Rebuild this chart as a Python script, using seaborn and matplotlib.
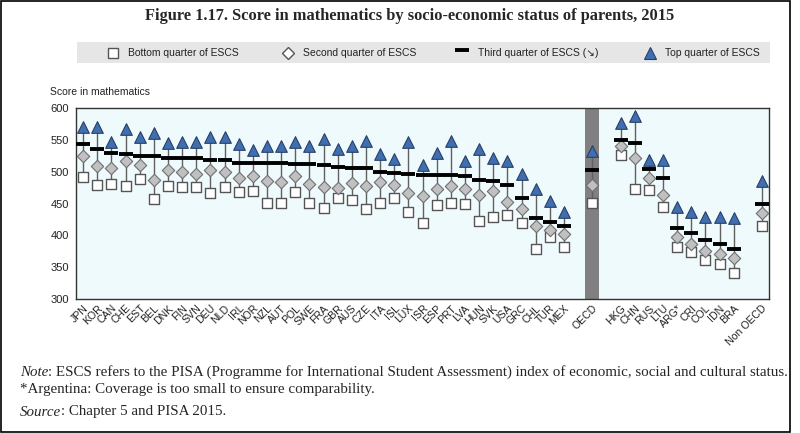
import numpy as np
import pandas as pd
import matplotlib
matplotlib.use("Agg")
import matplotlib.pyplot as plt
import seaborn as sns
from matplotlib.lines import Line2D
from matplotlib.patches import Rectangle

# ---------------- data ----------------
oecd_countries = ["JPN", "KOR", "CAN", "CHE", "EST", "BEL", "DNK", "FIN", "SVN", "DEU",
                  "NLD", "IRL", "NOR", "NZL", "AUT", "POL", "SWE", "FRA", "GBR", "AUS",
                  "CZE", "ITA", "ISL", "LUX", "ISR", "ESP", "PRT", "LVA", "HUN", "SVK",
                  "USA", "GRC", "CHL", "TUR", "MEX"]
oecd_avg = ["OECD"]
partners = ["HKG", "CHN", "RUS", "LTU", "ARG*", "CRI", "COL", "IDN", "BRA"]
non_oecd_avg = ["Non OECD"]

bottom_q = [492, 479, 481, 478, 488, 457, 478, 476, 476, 467,
            476, 468, 469, 451, 451, 468, 451, 443, 458, 456,
            442, 451, 459, 436, 419, 448, 451, 450, 423, 429,
            432, 419, 378, 398, 381,
            451,
            526, 472, 471, 444, 381, 374, 361, 355, 341,
            414]
second_q = [525, 509, 505, 516, 510, 487, 502, 499, 497, 502,
            500, 490, 493, 485, 483, 493, 480, 476, 474, 482,
            478, 484, 479, 467, 461, 472, 477, 472, 463, 469,
            453, 441, 415, 408, 402,
            479,
            540, 522, 490, 464, 398, 387, 375, 370, 364,
            435]
third_q = [544, 536, 530, 528, 525, 525, 522, 522, 521, 519,
           519, 514, 514, 513, 513, 512, 512, 510, 508, 506,
           505, 499, 498, 496, 494, 494, 494, 493, 487, 486,
           479, 458, 427, 421, 415,
           502,
           550, 545, 504, 490, 411, 403, 392, 386, 378,
           450]
top_q = [570, 570, 547, 567, 554, 560, 545, 547, 547, 554,
         554, 543, 534, 540, 540, 547, 540, 551, 536, 540,
         548, 528, 520, 547, 510, 529, 548, 516, 536, 522,
         517, 496, 473, 454, 436,
         533,
         577, 588, 519, 519, 445, 437, 429, 429, 428,
         486]

y_ticks = [300, 350, 400, 450, 500, 550, 600]
legend_labels = ["Bottom quarter of ESCS", "Second quarter of ESCS",
                 "Third quarter of ESCS (\u2198)", "Top quarter of ESCS"]

# ---------------- layout of categories (one empty slot between groups) ----------------
groups = [oecd_countries, oecd_avg, partners, non_oecd_avg]
cats, xpos = [], []
slot = 0
for gi, g in enumerate(groups):
    for c in g:
        cats.append(c)
        xpos.append(slot)
        slot += 1
    if gi < len(groups) - 1:
        slot += 1
n_slots = slot

df = pd.DataFrame({"country": cats, "x": xpos, "bottom": bottom_q,
                   "second": second_q, "third": third_q, "top": top_q})

# ---------------- style ----------------
sns.set_theme(style="white")
plt.rcParams["font.family"] = ["Liberation Sans", "DejaVu Sans"]

fig = plt.figure(figsize=(8.0, 4.33), dpi=100)
ax = fig.add_axes([76 / 800, 1 - 299 / 433, (769 - 76) / 800, (299 - 108) / 433])
ax.set_facecolor("#EFFAFD")

# OECD average band
ox = df.loc[df.country == "OECD", "x"].iloc[0]
ax.axvspan(ox - 0.5, ox + 0.5, color="#808080", zorder=0.5, lw=0)

# vertical range lines
ax.vlines(df["x"], df["bottom"], df["top"], color="#606060", lw=1.0, zorder=1)

sq_style = dict(marker="s", color="white", edgecolor="#555555")
di_style = dict(marker="D", color="#C0C0C0", edgecolor="#707070")
tr_style = dict(marker="^", color="#3F6FB0", edgecolor="#2A3F66")

sns.scatterplot(data=df, x="x", y="bottom", s=55, linewidth=1.0, ax=ax, zorder=3, **sq_style)
sns.scatterplot(data=df, x="x", y="second", s=40, linewidth=0.8, ax=ax, zorder=3, **di_style)
sns.scatterplot(data=df, x="x", y="third", marker="_", s=100, color="black",
                linewidth=2.8, ax=ax, zorder=4)
sns.scatterplot(data=df, x="x", y="top", s=70, linewidth=0.8, ax=ax, zorder=3, **tr_style)

ax.set_xlim(-0.5, n_slots - 0.5)
ax.set_ylim(300, 600)
ax.set_yticks(y_ticks)
ax.set_yticklabels([str(v) for v in y_ticks], fontsize=8, color="#222222")

ticklabels = [""] * n_slots
for c, x in zip(cats, xpos):
    ticklabels[x] = c
ax.set_xticks(range(n_slots))
ax.set_xticklabels(ticklabels, rotation=45, ha="right", rotation_mode="anchor",
                   fontsize=7.6, color="#222222")
ax.tick_params(axis="x", direction="in", length=4, width=0.8, color="#333333", pad=3)
ax.tick_params(axis="y", direction="out", length=3, width=0.8, color="#333333", pad=2)
ax.set_xlabel("")
ax.set_ylabel("")
for sp in ax.spines.values():
    sp.set_color("#333333")
    sp.set_linewidth(1.0)

fig.text(50 / 800, 1 - 92 / 433, "Score in mathematics", fontsize=7.5,
         color="#222222", va="center", ha="left")

# title
fig.text(410 / 800, 1 - 16 / 433,
         "Figure 1.17. Score in mathematics by socio-economic status of parents, 2015",
         fontsize=11.8, fontweight="bold", family=["Liberation Serif", "DejaVu Serif"],
         ha="center", va="center")

# legend background and entries
ly = 1 - 52.5 / 433
fig.patches.append(Rectangle((77 / 800, 1 - 63 / 433), (770 - 77) / 800, 21 / 433,
                             transform=fig.transFigure, facecolor="#E6E6E6",
                             edgecolor="none", zorder=0))
leg_markers = [
    dict(marker="s", markersize=7, markerfacecolor="white", markeredgecolor="#555555",
         markeredgewidth=1.0),
    dict(marker="D", markersize=6, markerfacecolor="white", markeredgecolor="#555555",
         markeredgewidth=1.0),
    dict(marker="_", markersize=10, markeredgecolor="black", markeredgewidth=2.8),
    dict(marker="^", markersize=8, markerfacecolor="#3F6FB0", markeredgecolor="#2A3F66",
         markeredgewidth=0.8),
]
marker_x = [113, 288, 462, 650]
text_x = [128, 303, 478, 665]
for mk, mx, tx, lab in zip(leg_markers, marker_x, text_x, legend_labels):
    dy = 2.5 / 433 if mk["marker"] == "_" else 0
    fig.add_artist(Line2D([mx / 800], [ly + dy], ls="none", transform=fig.transFigure, **mk))
    fig.text(tx / 800, ly, lab, fontsize=7.5, color="#222222", va="center", ha="left")

# notes
serif = ["Liberation Serif", "DejaVu Serif"]
nfs = 10.8
fig.canvas.draw()
r = fig.canvas.get_renderer()
y1 = 1 - 372 / 433
t = fig.text(20 / 800, y1, "Note", fontsize=nfs, style="italic", family=serif, va="center")
bb = t.get_window_extent(r)
fig.text(bb.x1 / 800, y1,
         ": ESCS refers to the PISA (Programme for International Student Assessment) index of economic, social and cultural status.",
         fontsize=nfs, family=serif, va="center")
fig.text(20 / 800, 1 - 389 / 433, "*Argentina: Coverage is too small to ensure comparability.",
         fontsize=nfs, family=serif, va="center")
t2 = fig.text(20 / 800, 1 - 412 / 433, "Source", fontsize=nfs, style="italic", family=serif, va="center")
bb2 = t2.get_window_extent(r)
fig.text(bb2.x1 / 800, 1 - 412 / 433, ": Chapter 5 and PISA 2015.", fontsize=nfs,
         family=serif, va="center")

# outer frame
fig.patches.append(Rectangle((1 / 800, 1 / 433), 789 / 800, 431 / 433, transform=fig.transFigure,
                             facecolor="none", edgecolor="black", lw=1.2, zorder=10))

fig.savefig("out.png", dpi=100, facecolor="white")
